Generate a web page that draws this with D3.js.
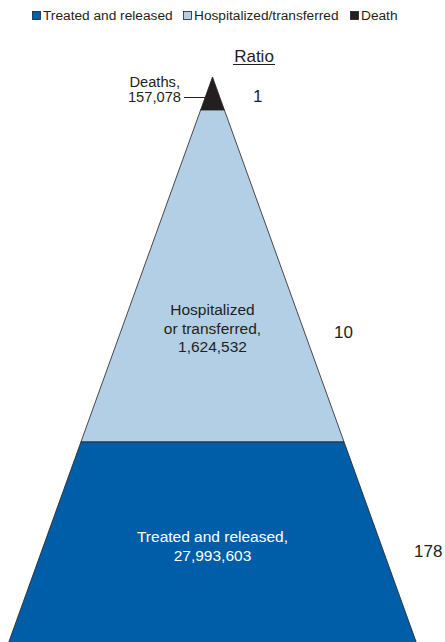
<!DOCTYPE html>
<html>
<head>
<meta charset="utf-8">
<script src="https://cdn.jsdelivr.net/npm/d3@7"></script>
<style>
  body { margin: 0; background: #fff; }
  text { font-family: "Liberation Sans", Arial, sans-serif; fill: #231f20; }
</style>
</head>
<body>
<script>
// data
var tiers = ["Death", "Hospitalized/transferred", "Treated and released"];
var counts = [157078, 1624532, 27993603];
var ratios = [1, 10, 178];
var tierNames = [["Deaths,"], ["Hospitalized", "or transferred,"], ["Treated and released,"]];
var legendOrder = ["Treated and released", "Hospitalized/transferred", "Death"];
var colors = ["#231f20", "#b3cfe5", "#005ea8"];

window.onload = function () {

    var w = 445, h = 642;
    var fmt = d3.format(",");

    var svg = d3.select("body")
        .append("svg")
        .attr("width", w)
        .attr("height", h);

    //pyramid geometry: apex and how fast it widens
    var apexX = 212.5, apexY = 77, slope = 0.3605;

    //tier index -> vertical position (schematic, not proportional)
    var y = d3.scaleOrdinal()
        .domain([0, 1, 2, 3])
        .range([apexY, 110, 442, 680]);

    var half = function (yy) { return (yy - apexY) * slope; };

    var color = d3.scaleOrdinal().domain(tiers).range(colors);

    var bands = tiers.map(function (t, i) {
        return { name: t, i: i, y0: y(i), y1: y(i + 1) };
    });

    svg.selectAll(".band")
        .data(bands)
        .enter()
        .append("path")
        .attr("class", "band")
        .attr("d", function (d) {
            var a = half(d.y0), b = half(d.y1);
            return "M" + (apexX - a) + "," + d.y0 + "L" + (apexX + a) + "," + d.y0 +
                "L" + (apexX + b) + "," + d.y1 + "L" + (apexX - b) + "," + d.y1 + "Z";
        })
        .style("fill", function (d) { return color(d.name); })
        .style("stroke", "#231f20")
        .style("stroke-width", 0.8)
        .style("stroke-linejoin", "miter");

    //legend
    var legX = [32, 183, 350];
    var leg = svg.selectAll(".leg")
        .data(legendOrder)
        .enter()
        .append("g")
        .attr("class", "leg")
        .attr("transform", function (d, i) { return "translate(" + legX[i] + ",11)"; });

    leg.append("rect")
        .attr("x", 0.5).attr("y", 0.5)
        .attr("width", 8).attr("height", 8)
        .style("fill", function (d) { return color(d); })
        .style("stroke", "#231f20")
        .style("stroke-width", 0.8);

    leg.append("text")
        .attr("x", 11)
        .attr("y", 9)
        .style("font-size", "13.7px")
        .text(function (d) { return d; });

    //ratio header
    svg.append("text")
        .attr("x", 254)
        .attr("y", 62)
        .attr("text-anchor", "middle")
        .style("font-size", "17px")
        .text("Ratio");
    svg.append("line")
        .attr("x1", 233).attr("x2", 275)
        .attr("y1", 64.5).attr("y2", 64.5)
        .style("stroke", "#231f20")
        .style("stroke-width", 1.2);

    //ratio values
    var ratioPos = [[253, 102], [334, 338], [414, 557]];
    svg.selectAll(".ratio")
        .data(ratios)
        .enter()
        .append("text")
        .attr("class", "ratio")
        .attr("x", function (d, i) { return ratioPos[i][0]; })
        .attr("y", function (d, i) { return ratioPos[i][1]; })
        .style("font-size", "17px")
        .text(function (d) { return d; });

    //deaths label, outside with a leader line
    var deathLab = svg.append("text")
        .attr("text-anchor", "end")
        .style("font-size", "14.7px");
    deathLab.append("tspan").attr("x", 180).attr("y", 87).text(tierNames[0][0]);
    deathLab.append("tspan").attr("x", 181).attr("y", 102).text(fmt(counts[0]));
    svg.append("line")
        .attr("x1", 184).attr("x2", apexX - half(97))
        .attr("y1", 97.5).attr("y2", 97.5)
        .style("stroke", "#231f20")
        .style("stroke-width", 1);

    //inside labels
    var inside = [
        { lines: tierNames[1].concat([fmt(counts[1])]), y: 315, fill: "#231f20" },
        { lines: tierNames[2].concat([fmt(counts[2])]), y: 542, fill: "#ffffff" }
    ];
    var lab = svg.selectAll(".inlab")
        .data(inside)
        .enter()
        .append("text")
        .attr("class", "inlab")
        .attr("text-anchor", "middle")
        .style("font-size", "15.5px")
        .style("fill", function (d) { return d.fill; });

    lab.selectAll("tspan")
        .data(function (d) { return d.lines.map(function (l, k) { return { t: l, y: d.y + k * 18.5 }; }); })
        .enter()
        .append("tspan")
        .attr("x", apexX)
        .attr("y", function (d) { return d.y; })
        .text(function (d) { return d.t; });
};
</script>
</body>
</html>
